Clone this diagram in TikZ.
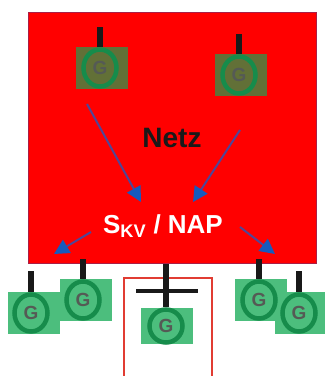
\documentclass[tikz,border=0pt]{standalone}
\usepackage{fontspec}
\setmainfont{Liberation Sans}
\usetikzlibrary{arrows.meta,shapes.geometric}
\definecolor{gfill}{RGB}{76,190,125}
\definecolor{golive}{RGB}{98,112,55}
\definecolor{gring}{RGB}{22,140,75}
\definecolor{gtext}{RGB}{85,90,85}
\definecolor{arrowblue}{RGB}{22,90,190}
\definecolor{arrowline}{RGB}{80,70,150}
\definecolor{netzedge}{RGB}{170,30,70}
\definecolor{frameedge}{RGB}{225,60,50}
\definecolor{stemblack}{RGB}{25,25,25}
\tikzset{
  x=1pt,y=-1pt,
  gbox/.style={fill=gfill,draw=none},
  gboxtop/.style={fill=golive,draw=none},
  ring/.style={draw=gring,line width=4.5pt,ellipse,minimum width=33pt,minimum height=37pt,inner sep=0pt,font=\bfseries\fontsize{19}{19}\selectfont,text=gtext},
  stem/.style={line width=5.5pt,draw=stemblack},
  flow/.style={draw=arrowline,line width=2pt,-{Triangle[length=15pt,width=15pt,color=arrowblue,fill=arrowblue]}},
  netzbox/.style={draw=netzedge,line width=1pt,fill=red,minimum width=288pt,minimum height=251pt,inner sep=0pt},
  framebar/.style={fill=frameedge,draw=none},
}
\begin{document}
\begin{tikzpicture}
\useasboundingbox (0,0) rectangle (325,376);
\fill[white] (0,0) rectangle (325,376);
\node[netzbox] (netzrect) at (172,137.5) {};
% top generators
\fill[gboxtop] (76,47) rectangle (128,89);
\fill[gboxtop] (215,54) rectangle (267,96);
\node[ring,fill=golive] (gA) at (100,68) {G};
\node[ring,fill=golive] (gB) at (239,75) {G};
\coordinate (gAt) at (100,27);
\coordinate (gBt) at (239,34);
\draw[stem] (gAt) -- (gA.north);
\draw[stem] (gBt) -- (gB.north);
% bottom generators
\fill[gbox] (8,292) rectangle (60,334);
\fill[gbox] (60,279) rectangle (112,321);
\fill[gbox] (141,308) rectangle (193,344);
\fill[gbox] (235,279) rectangle (287,321);
\fill[gbox] (275,292) rectangle (325,334);
\node[ring] (gC) at (31,313) {G};
\node[ring] (gD) at (83,300) {G};
\node[ring,minimum height=33pt] (gE) at (166,326) {G};
\node[ring] (gF) at (259,300) {G};
\node[ring] (gG) at (299,313) {G};
\coordinate (sC) at (31,271);
\coordinate (sD) at (83,259);
\coordinate (sE) at (166,264);
\coordinate (sF) at (259,259);
\coordinate (sG) at (299,271);
% red frame round the middle generator, open at the foot
\fill[framebar] (123,277) rectangle (125,376);
\fill[framebar] (211,277) rectangle (213,376);
\fill[framebar] (123,277) rectangle (213,279);
\draw[stem] (sC) -- (gC.north);
\draw[stem] (sD) -- (gD.north);
\draw[stem] (sF) -- (gF.north);
\draw[stem] (sG) -- (gG.north);
\draw[stem] (sE) -- (gE.north);
\draw[line width=4.5pt,draw=stemblack] (136,291) -- (198,291);
% labels
\node[font=\bfseries\fontsize{28}{28}\selectfont,text=stemblack] (netz) at (172,138) {Netz};
\node[font=\bfseries\fontsize{26}{26}\selectfont,text=white] (skv) at (163,226) {S\textsubscript{KV} / NAP};
\coordinate (a1) at (87,104);
\coordinate (a2) at (141,202);
\coordinate (b1) at (240,130);
\coordinate (b2) at (193,202);
\coordinate (c1) at (91,232);
\coordinate (c2) at (54,254);
\coordinate (d1) at (240,227);
\coordinate (d2) at (275,254);
\draw[flow] (a1) -- (a2);
\draw[flow] (b1) -- (b2);
\draw[flow] (c1) -- (c2);
\draw[flow] (d1) -- (d2);
\end{tikzpicture}
\end{document}
